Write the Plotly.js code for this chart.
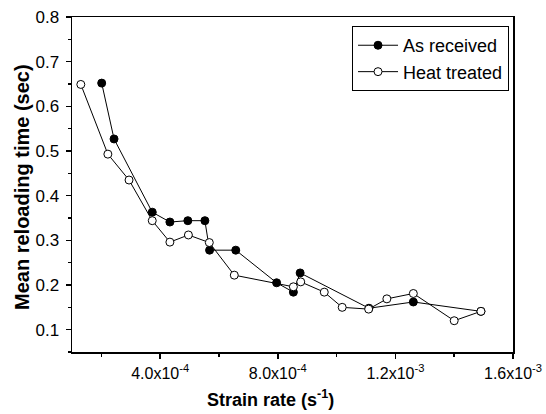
<!DOCTYPE html>
<html>
<head>
<meta charset="utf-8">
<script src="https://cdn.plot.ly/plotly-3.0.1.min.js"></script>
<style>html,body{margin:0;padding:0;background:#fff;}#chart{width:546px;height:414px;}</style>
</head>
<body>
<div id="chart"></div>
<script>
// As received (filled circles)
const asReceivedX = [2.01e-4, 2.43e-4, 3.73e-4, 4.33e-4, 4.94e-4, 5.52e-4, 5.68e-4, 6.57e-4, 7.96e-4, 8.53e-4, 8.76e-4, 1.110e-3, 1.261e-3, 1.491e-3];
const asReceivedY = [0.652, 0.527, 0.363, 0.341, 0.344, 0.344, 0.278, 0.278, 0.205, 0.184, 0.227, 0.148, 0.162, 0.141];
// Heat treated (open circles)
const heatTreatedX = [1.30e-4, 2.22e-4, 2.94e-4, 3.73e-4, 4.33e-4, 4.96e-4, 5.67e-4, 6.52e-4, 8.53e-4, 8.78e-4, 9.58e-4, 1.019e-3, 1.109e-3, 1.171e-3, 1.261e-3, 1.400e-3, 1.491e-3];
const heatTreatedY = [0.649, 0.493, 0.435, 0.344, 0.296, 0.312, 0.295, 0.222, 0.196, 0.207, 0.184, 0.150, 0.146, 0.169, 0.181, 0.120, 0.141];
// Tick labels
const xTickVals = [4e-4, 8e-4, 1.2e-3, 1.6e-3];
const xTickText = ['4.0x10<sup>-4</sup>', '8.0x10<sup>-4</sup>', '1.2x10<sup>-3</sup>', '1.6x10<sup>-3</sup>'];
const xMinorVals = [2e-4, 6e-4, 1.0e-3, 1.4e-3];
const yTickVals = [0.1, 0.2, 0.3, 0.4, 0.5, 0.6, 0.7, 0.8];
const yTickText = ['0.1', '0.2', '0.3', '0.4', '0.5', '0.6', '0.7', '0.8'];
const yMinorVals = [0.05, 0.15, 0.25, 0.35, 0.45, 0.55, 0.65, 0.75];
const xTitle = '<b>Strain rate (s<sup>-1</sup>)</b>';
const yTitle = '<b>Mean reloading time (sec)</b>';

const traces = [
  {
    x: asReceivedX, y: asReceivedY, name: 'As received', type: 'scatter', mode: 'lines+markers',
    line: {color: '#000', width: 1},
    marker: {symbol: 'circle', size: 8, color: '#000', line: {color: '#000', width: 1}}
  },
  {
    x: heatTreatedX, y: heatTreatedY, name: 'Heat treated', type: 'scatter', mode: 'lines+markers',
    line: {color: '#000', width: 1},
    marker: {symbol: 'circle', size: 8, color: '#fff', line: {color: '#000', width: 1}}
  }
];

const layout = {
  width: 546, height: 414,
  margin: {l: 72, r: 33, t: 17, b: 62},
  paper_bgcolor: '#fff', plot_bgcolor: '#fff',
  font: {family: '"Liberation Sans", Arial, sans-serif', color: '#000', size: 16},
  showlegend: true,
  legend: {
    x: 0.991, y: 0.973, xanchor: 'right', yanchor: 'top',
    bordercolor: '#000', borderwidth: 1, bgcolor: '#fff',
    font: {size: 18}, tracegroupgap: 0, itemwidth: 40
  },
  xaxis: {
    range: [1e-4, 1.6e-3], tickmode: 'array', tickvals: xTickVals, ticktext: xTickText,
    showline: true, linecolor: '#000', linewidth: 1.5, mirror: true,
    ticks: 'outside', ticklen: 5, tickwidth: 1.5, tickcolor: '#000',
    showgrid: false, zeroline: false, automargin: false,
    tickfont: {size: 16}, ticklabelstandoff: 1,
    minor: {tickmode: 'array', tickvals: xMinorVals, ticks: 'outside', ticklen: 3, tickwidth: 1.5, tickcolor: '#000', showgrid: false}
  },
  yaxis: {
    range: [0.05, 0.8], tickmode: 'array', tickvals: yTickVals, ticktext: yTickText,
    showline: true, linecolor: '#000', linewidth: 1.5, mirror: true,
    ticks: 'outside', ticklen: 5, tickwidth: 1.5, tickcolor: '#000',
    showgrid: false, zeroline: false, automargin: false,
    tickfont: {size: 17}, ticklabelstandoff: 3,
    minor: {tickmode: 'array', tickvals: yMinorVals, ticks: 'outside', ticklen: 3, tickwidth: 1.5, tickcolor: '#000', showgrid: false}
  },
  annotations: [
    {text: xTitle, xref: 'paper', yref: 'paper', x: 0.451, y: -0.140, xanchor: 'center', yanchor: 'middle', showarrow: false, font: {size: 18}},
    {text: yTitle, xref: 'paper', yref: 'paper', x: -0.1134, y: 0.4925, xanchor: 'center', yanchor: 'middle', textangle: -90, showarrow: false, font: {size: 20}}
  ]
};

Plotly.newPlot('chart', traces, layout, {displayModeBar: false, staticPlot: true});
</script>
</body>
</html>
